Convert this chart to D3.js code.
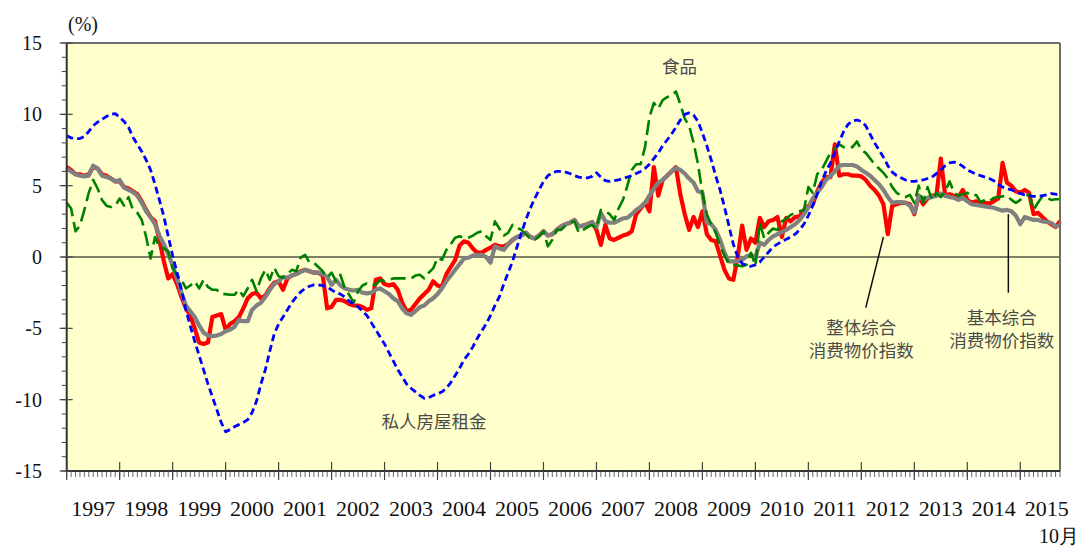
<!DOCTYPE html>
<html><head><meta charset="utf-8">
<script src="https://cdn.jsdelivr.net/npm/d3@7/dist/d3.min.js"></script>
<style>body{margin:0;background:#fff}svg{display:block}</style>
</head><body><svg id="c" width="1083" height="546"></svg>
<script>
// ---- data (year-on-year % change, monthly, Jan 1997 .. Oct 2015) ----
const years = ["1997","1998","1999","2000","2001","2002","2003","2004","2005","2006","2007","2008","2009","2010","2011","2012","2013","2014","2015"];
const yTicks = [-15,-10,-5,0,5,10,15];
const unitLabel = "(%)";
const lastMonthLabel = "10月";

const headline = [6.3,6.1,5.8,5.8,5.7,5.8,6.3,6.2,5.8,5.7,5.5,5.3,
 5.3,4.9,4.8,4.6,4.4,3.9,3.3,2.8,2.5,1.2,-0.3,-1.5,
 -1.2,-1.9,-2.8,-3.6,-4.1,-5.0,-6.0,-6.1,-6.0,-4.2,-4.1,-4.0,
 -5.1,-4.7,-4.5,-4.2,-3.6,-2.9,-2.6,-2.5,-2.9,-2.7,-2.2,-1.8,
 -1.7,-2.3,-1.5,-1.3,-1.2,-1.0,-0.9,-1.0,-1.1,-1.1,-1.3,-3.6,
 -3.5,-3.0,-3.0,-3.1,-3.3,-3.4,-3.4,-3.5,-3.7,-3.6,-1.6,-1.5,
 -1.9,-2.0,-1.9,-2.3,-3.2,-3.8,-3.7,-3.3,-2.9,-2.6,-2.3,-1.7,
 -2.0,-2.1,-1.2,-0.7,-0.2,0.8,1.1,1.0,0.6,0.3,0.3,0.5,
 0.65,0.85,0.75,0.75,0.9,1.2,1.4,1.5,1.7,1.4,1.3,1.5,
 1.8,1.5,1.6,1.9,2.15,2.3,2.4,2.6,2.15,2.2,2.3,2.45,
 1.9,0.85,2.25,1.3,1.2,1.35,1.5,1.6,1.8,3.0,3.4,3.8,
 3.2,6.3,4.3,5.4,5.7,6.0,6.3,4.4,3.0,1.9,2.8,2.1,
 3.2,1.6,1.2,1.1,0.1,-0.9,-1.5,-1.6,0.0,2.2,0.5,1.3,
 1.0,2.75,2.1,2.5,2.6,2.8,1.4,2.75,2.5,2.8,2.85,3.3,
 3.6,3.7,4.6,5.2,5.6,5.6,7.9,5.7,5.8,5.8,5.7,5.7,
 5.65,5.4,5.0,4.7,4.3,3.7,1.6,3.6,3.7,3.8,3.8,3.7,
 3.0,4.3,3.7,4.1,4.3,4.3,6.9,4.3,4.4,4.3,4.2,4.7,
 4.0,3.8,3.9,3.8,3.8,3.75,3.9,4.1,6.6,5.2,5.0,4.6,
 4.5,4.7,4.5,3.0,3.1,2.8,2.5,2.3,2.1,2.5];

const underlying = [6.2,6.0,5.8,5.7,5.65,5.7,6.4,6.2,5.7,5.6,5.5,5.3,
 5.4,4.85,4.7,4.55,4.3,3.8,3.2,2.8,2.3,1.5,0.9,0.2,
 -0.6,-1.5,-2.5,-3.4,-3.8,-4.2,-4.8,-5.3,-5.5,-5.55,-5.5,-5.4,
 -5.2,-5.1,-4.9,-4.4,-4.5,-4.5,-3.7,-3.4,-3.2,-2.8,-2.3,-1.9,
 -1.7,-1.4,-1.45,-1.3,-1.2,-1.05,-0.9,-1.0,-1.1,-1.1,-1.2,-1.4,
 -1.95,-1.6,-2.0,-2.2,-2.3,-2.35,-2.3,-2.5,-2.55,-2.5,-2.3,-2.2,
 -2.4,-2.6,-2.9,-3.1,-3.6,-3.95,-4.05,-3.8,-3.5,-3.4,-3.1,-2.9,
 -2.6,-2.2,-1.7,-1.3,-0.9,-0.5,-0.1,-0.05,0.1,0.15,0.15,0.0,
 -0.4,0.75,0.6,0.5,0.9,1.2,1.4,1.5,1.7,1.4,1.3,1.5,
 1.8,1.5,1.6,1.9,2.15,2.3,2.4,2.6,2.15,2.2,2.3,2.45,
 2.1,3.1,2.5,2.4,2.4,2.55,2.7,2.75,3.0,3.3,3.5,3.8,
 4.3,4.8,5.2,5.4,5.7,6.0,6.25,6.1,5.85,5.5,5.2,4.6,
 4.5,2.4,2.3,1.9,1.2,0.3,-0.3,-0.3,-0.3,-0.2,0.05,0.15,
 -0.05,1.0,0.85,1.2,1.45,1.6,1.75,1.9,2.1,2.3,2.6,3.0,
 3.5,4.1,4.5,4.9,5.4,5.7,6.0,6.4,6.45,6.45,6.45,6.35,
 6.1,5.9,5.7,5.4,5.1,4.7,4.2,3.8,3.85,3.85,3.8,3.6,
 3.1,4.3,4.0,4.15,4.2,4.3,4.45,4.3,4.2,4.15,4.0,4.15,
 3.9,3.7,3.65,3.6,3.55,3.5,3.45,3.35,3.25,3.3,3.2,2.9,
 2.3,2.8,2.7,2.6,2.6,2.5,2.45,2.4,2.15,2.25];

const food = [3.8,3.4,1.8,2.2,3.3,4.5,5.4,4.8,4.0,3.6,3.5,3.6,
 4.1,3.6,4.2,3.3,3.1,2.6,1.4,-0.1,1.4,0.7,0.6,0.4,
 -0.8,-1.3,-1.6,-2.2,-2.0,-1.7,-2.2,-1.6,-2.1,-2.3,-2.3,-2.6,
 -2.6,-2.65,-2.65,-2.3,-2.75,-2.2,-1.6,-2.4,-1.5,-0.9,-1.6,-0.75,
 -1.35,-1.45,-1.2,-0.9,-1.0,-0.05,0.15,-0.4,-0.4,-0.7,-1.0,-1.45,
 -1.1,-1.7,-1.25,-2.2,-2.65,-3.2,-2.4,-2.0,-1.85,-2.0,-1.95,-1.6,
 -1.7,-1.6,-1.5,-1.5,-1.5,-1.5,-1.5,-1.3,-1.25,-1.5,-1.1,-0.8,
 -0.05,-0.2,0.5,0.9,1.35,1.45,1.35,1.35,1.5,1.7,1.8,1.45,
 1.2,2.5,2.0,1.5,1.7,2.25,2.05,1.9,1.6,1.3,1.2,1.45,
 1.8,0.75,1.2,1.9,1.9,2.2,2.4,2.5,1.7,1.9,2.1,2.25,
 2.0,3.3,3.2,3.0,2.6,3.4,4.0,5.0,6.1,6.5,6.5,7.7,
 9.8,10.8,10.4,11.0,11.2,11.3,11.6,10.7,9.7,9.2,8.0,6.5,
 4.5,3.0,2.3,1.7,0.8,0.1,-0.5,-0.55,-0.6,-0.65,-0.55,0.3,
 -0.6,2.4,1.3,1.7,2.0,1.9,2.5,2.7,2.95,3.1,3.2,3.3,
 4.9,4.5,5.8,6.1,6.7,7.3,7.6,7.9,7.7,7.75,7.7,8.1,
 7.5,7.3,6.9,6.5,6.2,5.9,5.5,4.9,4.5,4.3,4.2,4.35,
 3.8,5.0,3.8,4.9,4.0,4.5,4.2,4.6,5.3,4.5,4.3,4.4,
 4.5,4.3,4.35,3.85,4.0,3.9,4.15,4.2,4.25,4.3,4.0,3.8,
 4.0,4.2,4.4,3.3,3.8,4.25,4.15,4.0,4.05,4.05];

const rent = [8.5,8.35,8.3,8.3,8.45,8.8,9.2,9.45,9.65,9.85,10.0,10.05,
 9.8,9.5,9.1,8.4,7.9,7.4,6.8,6.1,5.1,4.0,2.85,1.45,
 0.1,-1.1,-2.3,-3.7,-4.85,-5.9,-6.9,-7.9,-8.9,-9.8,-10.7,-11.6,
 -12.25,-12.1,-11.9,-11.75,-11.6,-11.4,-10.9,-10.1,-8.9,-7.9,-6.6,-5.4,
 -4.7,-4.2,-3.7,-3.2,-2.8,-2.45,-2.2,-2.05,-1.95,-1.95,-2.0,-2.1,
 -2.3,-2.5,-2.6,-2.8,-3.1,-3.3,-3.5,-3.8,-4.1,-4.6,-5.1,-5.6,
 -6.1,-6.7,-7.3,-7.9,-8.4,-8.9,-9.2,-9.45,-9.7,-9.9,-9.85,-9.7,
 -9.6,-9.45,-9.2,-8.8,-8.3,-7.8,-7.2,-6.8,-6.3,-5.7,-5.2,-4.7,
 -4.1,-3.4,-2.8,-1.9,-1.1,-0.3,0.7,1.7,2.6,3.4,4.1,4.7,
 5.3,5.7,5.9,6.0,6.0,5.95,5.85,5.7,5.6,5.55,5.55,5.65,
 5.9,5.6,5.35,5.3,5.35,5.4,5.5,5.6,5.7,5.85,6.0,6.2,
 6.5,6.9,7.3,7.8,8.2,8.6,9.1,9.6,10.0,10.1,9.95,9.5,
 8.7,7.8,6.8,5.7,4.7,3.5,2.2,0.9,0.0,-0.45,-0.6,-0.65,
 -0.55,-0.35,0.0,0.35,0.7,0.9,1.1,1.25,1.4,1.6,1.9,2.3,
 2.9,3.6,4.4,5.3,6.0,6.6,7.3,8.1,8.8,9.3,9.55,9.6,
 9.5,9.2,8.6,8.0,7.5,7.0,6.4,5.95,5.7,5.55,5.4,5.3,
 5.3,5.35,5.4,5.5,5.6,5.85,6.1,6.4,6.6,6.65,6.55,6.35,
 6.1,5.95,5.8,5.7,5.6,5.5,5.35,5.1,4.9,4.8,4.7,4.6,
 4.45,4.35,4.3,4.25,4.25,4.3,4.35,4.45,4.4,4.35];

// annotations: anchor positions in (month index, value)
const notes = [
  {lines:["食品"], i:138.8, v:13.3},
  {lines:["私人房屋租金"], i:83.2, v:-11.6},
  {lines:["整体综合","消费物价指数"], i:180.0, v:-5.0},
  {lines:["基本综合","消费物价指数"], i:211.8, v:-4.3}
];
const leaders = [
  {i1:185.0, v1:1.4, i2:181.0, v2:-3.55},
  {i1:213.3, v1:3.0, i2:213.3, v2:-2.5}
];

// ---- layout ----
const svg = d3.select("#c");
const L = 66.7, R = 1060, T = 43, B = 471;
const nMonths = headline.length; // 226
const x = d3.scaleLinear().domain([0, nMonths - 1]).range([L, R]);
const y = d3.scaleLinear().domain([-15, 15]).range([B, T]);
const serif = "'Liberation Serif','Times New Roman',serif";
const cjk = "'Noto Sans CJK SC','Noto Sans',sans-serif";

svg.append("rect").attr("x", L).attr("y", T).attr("width", R - L).attr("height", B - T).attr("fill", "#FFFFCC");

// zero line
svg.append("line").attr("x1", L).attr("x2", R).attr("y1", y(0)).attr("y2", y(0)).attr("stroke", "#000").attr("stroke-width", 1.2);

// series
const line = d3.line().x((d, i) => x(i)).y(d => y(d));
const series = [
  {data: headline, color: "#FF0000", w: 4.2, dash: null},
  {data: underlying, color: "#808080", w: 4.2, dash: null},
  {data: food, color: "#008000", w: 2.6, dash: "15,6"},
  {data: rent, color: "#0000FF", w: 2.8, dash: "7,4"}
];
svg.selectAll("path.s").data(series).enter().append("path")
  .attr("class", "s")
  .attr("d", d => line(d.data))
  .attr("fill", "none")
  .attr("stroke", d => d.color)
  .attr("stroke-width", d => d.w)
  .attr("stroke-linejoin", "round")
  .attr("stroke-dasharray", d => d.dash);

// frame: top & right
svg.append("line").attr("x1", L).attr("x2", R).attr("y1", T).attr("y2", T).attr("stroke", "#6e6e6e").attr("stroke-width", 2);
svg.append("line").attr("x1", R).attr("x2", R).attr("y1", T).attr("y2", B).attr("stroke", "#6e6e6e").attr("stroke-width", 2);
// axes lines
svg.append("line").attr("x1", L).attr("x2", L).attr("y1", T).attr("y2", B).attr("stroke", "#333").attr("stroke-width", 2);
svg.append("line").attr("x1", L).attr("x2", R).attr("y1", B).attr("y2", B).attr("stroke", "#333").attr("stroke-width", 2);

// y ticks
const yMinor = d3.range(-15, 16, 1);
svg.selectAll("line.ymin").data(yMinor).enter().append("line")
  .attr("x1", L - 5).attr("x2", L).attr("y1", d => y(d)).attr("y2", d => y(d))
  .attr("stroke", "#444").attr("stroke-width", 1);
svg.selectAll("line.ymaj").data(yTicks).enter().append("line")
  .attr("x1", L - 7).attr("x2", L + 6).attr("y1", d => y(d)).attr("y2", d => y(d))
  .attr("stroke", "#444").attr("stroke-width", 1.2);
svg.selectAll("text.yl").data(yTicks).enter().append("text")
  .attr("x", 42).attr("y", d => y(d) + 7)
  .attr("text-anchor", "end").attr("font-family", serif).attr("font-size", 20).attr("fill", "#111")
  .text(d => d);
svg.append("text").attr("x", 68).attr("y", 31).attr("font-family", serif).attr("font-size", 20).attr("fill", "#111").text(unitLabel);

// x ticks
const xMinor = d3.range(0, nMonths);
svg.selectAll("line.xmin").data(xMinor).enter().append("line")
  .attr("x1", d => x(d)).attr("x2", d => x(d)).attr("y1", B).attr("y2", B + 6)
  .attr("stroke", "#444").attr("stroke-width", 0.8);
svg.selectAll("line.xmaj").data(years).enter().append("line")
  .attr("x1", (d, k) => x(12 * k)).attr("x2", (d, k) => x(12 * k)).attr("y1", B - 9).attr("y2", B + 9)
  .attr("stroke", "#444").attr("stroke-width", 1.2);
svg.selectAll("text.xl").data(years).enter().append("text")
  .attr("x", (d, k) => x(12 * k + 6)).attr("y", 516)
  .attr("text-anchor", "middle").attr("font-family", serif).attr("font-size", 22).attr("fill", "#111")
  .text(d => d);
svg.append("text").attr("x", 1079).attr("y", 543).attr("text-anchor", "end")
  .attr("font-family", serif).attr("font-size", 20).attr("fill", "#111").text(lastMonthLabel);

// annotations
leaders.forEach(l => {
  svg.append("line").attr("x1", x(l.i1)).attr("y1", y(l.v1)).attr("x2", x(l.i2)).attr("y2", y(l.v2))
    .attr("stroke", "#111").attr("stroke-width", 1.5);
});
notes.forEach(n => {
  n.lines.forEach((s, k) => {
    svg.append("text").attr("font-family", cjk).attr("font-size", 17.5).attr("fill", "#4a4a4a")
      .attr("text-anchor", "middle")
      .attr("x", x(n.i)).attr("y", y(n.v) + 6 + k * 23).text(s);
  });
});
</script>
</body></html>
